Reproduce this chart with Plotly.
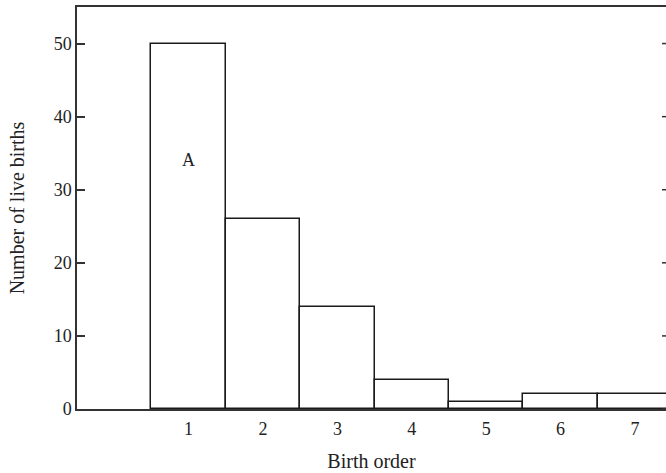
import plotly.graph_objects as go

birth_order = [1, 2, 3, 4, 5, 6, 7]
live_births = [50, 26, 14, 4, 1, 2, 2]
y_ticks = [0, 10, 20, 30, 40, 50]
x_tick_labels = ["1", "2", "3", "4", "5", "6", "7"]
annotation_label = "A"

FONT = "Liberation Serif"
INK = "#222222"

fig = go.Figure()
fig.add_trace(go.Bar(
    x=birth_order, y=live_births, width=1,
    marker=dict(color="white", line=dict(color="#1a1a1a", width=1.5)),
    showlegend=False, hoverinfo="skip",
))

fig.add_annotation(x=birth_order[0], y=34, text=annotation_label, showarrow=False,
                   font=dict(family=FONT, size=18, color=INK))

# mirrored right-side ticks (axis line lies just off the visible page)
shapes = []
for t in y_ticks:
    shapes.append(dict(type="line", xref="paper", yref="y", x0=1 - 4/589, x1=1.0,
                       y0=t, y1=t, line=dict(color="#333", width=1.5)))
fig.update_layout(shapes=shapes)

fig.update_layout(
    width=666, height=473,
    margin=dict(l=77, r=0, t=7, b=64),
    paper_bgcolor="white", plot_bgcolor="white",
    font=dict(family=FONT, size=18, color=INK),
    bargap=0,
    xaxis=dict(
        range=[-0.5, 7.417], tickvals=birth_order, ticktext=x_tick_labels,
        ticks="", showgrid=False, zeroline=False,
        showline=True, mirror=True, linecolor="#333", linewidth=1.5,
        ticklabelstandoff=3,
        title=dict(text="Birth order", font=dict(family=FONT, size=20, color=INK), standoff=16),
        tickfont=dict(family=FONT, size=18, color=INK),
    ),
    yaxis=dict(
        range=[0, 55.0], tickvals=y_ticks,
        ticks="inside", ticklen=8, tickwidth=1.5, tickcolor="#333",
        showgrid=False, zeroline=False,
        showline=True, mirror=False, linecolor="#333", linewidth=1.5,
        title=dict(text="Number of live births", font=dict(family=FONT, size=20, color=INK), standoff=24),
        tickfont=dict(family=FONT, size=18, color=INK),
    ),
)

fig.write_html("out.html", config={"displayModeBar": False},
               post_script="document.body.style.margin='0';document.body.style.overflow='hidden';")
